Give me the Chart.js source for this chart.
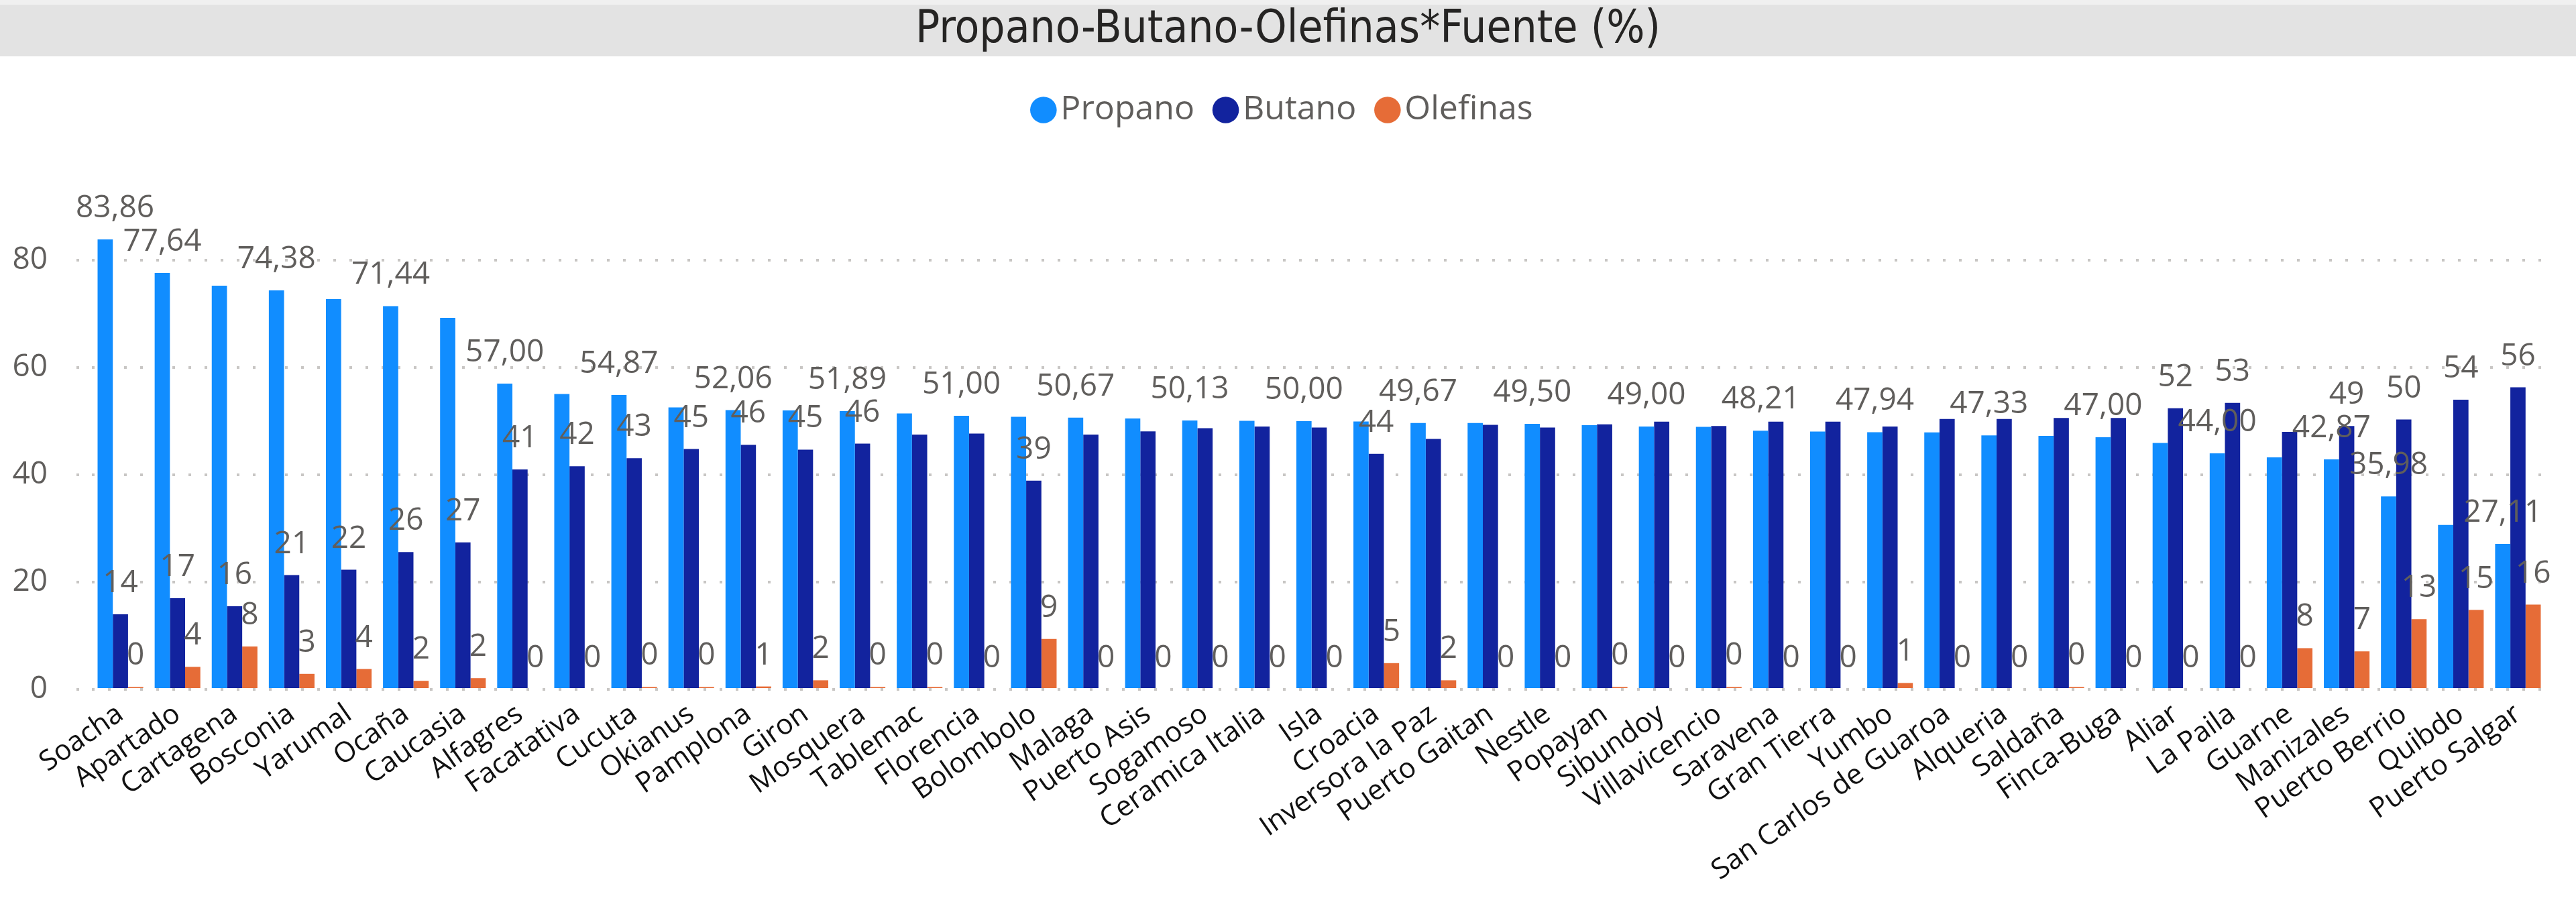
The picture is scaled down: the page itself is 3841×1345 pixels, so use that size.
<!DOCTYPE html>
<html>
<head>
<meta charset="utf-8">
<script src="https://cdn.jsdelivr.net/npm/chart.js"></script>
<style>
html, body { margin: 0; padding: 0; background: #fff; }
#wrap { width: 3841px; height: 1345px; position: relative; }
</style>
</head>
<body>
<div id="wrap"><canvas id="myChart"></canvas></div>
<script>
var fuentes = ['Soacha', 'Apartado', 'Cartagena', 'Bosconia', 'Yarumal', 'Ocaña', 'Caucasia', 'Alfagres',
  'Facatativa', 'Cucuta', 'Okianus', 'Pamplona', 'Giron', 'Mosquera', 'Tablemac', 'Florencia', 'Bolombolo',
  'Malaga', 'Puerto Asis', 'Sogamoso', 'Ceramica Italia', 'Isla', 'Croacia', 'Inversora la Paz', 'Puerto Gaitan',
  'Nestle', 'Popayan', 'Sibundoy', 'Villavicencio', 'Saravena', 'Gran Tierra', 'Yumbo', 'San Carlos de Guaroa',
  'Alqueria', 'Saldaña', 'Finca-Buga', 'Aliar', 'La Paila', 'Guarne', 'Manizales', 'Puerto Berrio', 'Quibdo',
  'Puerto Salgar'];

var propano = [83.86, 77.64, 75.25, 74.38, 72.75, 71.44, 69.25, 57.00, 55.05, 54.87, 52.55, 52.06, 52.0, 51.89,
  51.45, 51.00, 50.8, 50.67, 50.5, 50.13, 50.05, 50.00, 49.95, 49.67, 49.65, 49.50, 49.25, 49.00, 48.95, 48.21,
  48.05, 47.94, 47.9, 47.33, 47.25, 47.00, 45.95, 44.00, 43.25, 42.87, 35.98, 30.65, 27.11];

var butano = [14.0, 17.0, 15.5, 21.3, 22.3, 25.6, 27.4, 41.0, 41.6, 43.1, 44.8, 45.6, 44.7, 45.8, 47.5, 47.7,
  38.9, 47.5, 48.1, 48.7, 49.0, 48.8, 43.9, 46.7, 49.3, 48.8, 49.4, 49.9, 49.1, 49.9, 49.9, 49.0, 50.4, 50.4,
  50.6, 50.6, 52.4, 53.4, 48.0, 49.1, 50.3, 54.0, 56.3];

var olefinas = [0.45, 4.2, 8.0, 2.9, 3.8, 1.6, 2.1, 0, 0, 0.45, 0.45, 0.55, 1.7, 0.45, 0.45, 0, 9.4, 0, 0, 0, 0,
  0, 4.9, 1.7, 0, 0, 0.45, 0, 0.45, 0, 0, 1.2, 0, 0, 0.45, 0, 0, 0, 7.7, 7.1, 13.1, 14.8, 15.8];

var yTicks = [0, 20, 40, 60, 80];

// which data labels power bi kept visible (olefinas: all of them)
var propanoLabelIdx = [0, 1, 3, 5, 7, 9, 11, 13, 15, 17, 19, 21, 23, 25, 27, 29, 31, 33, 35, 37, 39, 40, 42];
var butanoLabelIdx = [0, 1, 2, 3, 4, 5, 6, 7, 8, 9, 10, 11, 12, 13, 16, 22, 36, 37, 39, 40, 41, 42];

var labelIdx = [propanoLabelIdx, butanoLabelIdx, null];

function fmt(d, v) {
  if (d === 0) return v.toFixed(2).replace('.', ',');
  return String(Math.round(v));
}

// grey band behind the title
var titleBand = {
  id: 'titleBand',
  beforeDraw: function(chart) {
    var ctx = chart.ctx;
    ctx.save();
    ctx.fillStyle = '#f0f0f0';
    ctx.fillRect(0, 0, chart.width, 7);
    ctx.fillStyle = '#e3e3e3';
    ctx.fillRect(0, 7, chart.width, 77);
    ctx.restore();
  }
};

// empty boxes: gap under the legend and a margin on the right of the plot
function spacer(pos, size) {
  return {
    position: pos, weight: 0, fullSize: false,
    options: {},
    width: 0, height: 0,
    update: function(maxWidth, maxHeight) {
      if (pos === 'top') { this.width = maxWidth; this.height = size; }
      else { this.width = size; this.height = maxHeight; }
    },
    isHorizontal: function() { return pos === 'top'; },
    draw: function() {}
  };
}

var spacers = {
  id: 'spacers',
  beforeInit: function(chart) {
    Chart.layouts.addBox(chart, spacer('top', 109));
    Chart.layouts.addBox(chart, spacer('right', 44));
  }
};

var barLabels = {
  id: 'barLabels',
  afterDatasetsDraw: function(chart) {
    var ctx = chart.ctx;
    ctx.save();
    ctx.font = '46px "Open Sans"';
    ctx.fillStyle = '#605E5C';
    ctx.textAlign = 'center';
    ctx.textBaseline = 'alphabetic';
    chart.data.datasets.forEach(function(ds, d) {
      var meta = chart.getDatasetMeta(d);
      meta.data.forEach(function(bar, i) {
        if (labelIdx[d] && labelIdx[d].indexOf(i) < 0) return;
        var txt = fmt(d, ds.data[i]);
        var w = ctx.measureText(txt).width;
        var x = Math.max(bar.x, chart.chartArea.left - 24 + w / 2);
        ctx.fillText(txt, x, bar.y - 33);
      });
    });
    ctx.restore();
  }
};

var ctx = document.getElementById('myChart').getContext('2d');
var myChart = new Chart(ctx, {
  type: 'bar',
  data: {
    labels: fuentes,
    datasets: [{
      label: 'Propano',
      data: propano,
      backgroundColor: '#118DFF',
      borderWidth: 0,
      barPercentage: 1,
      categoryPercentage: 0.8
    }, {
      label: 'Butano',
      data: butano,
      backgroundColor: '#12239E',
      borderWidth: 0,
      barPercentage: 1,
      categoryPercentage: 0.8
    }, {
      label: 'Olefinas',
      data: olefinas,
      backgroundColor: '#E66C37',
      borderWidth: 0,
      barPercentage: 1,
      categoryPercentage: 0.8
    }]
  },
  options: {
    responsive: true,
    maintainAspectRatio: false,
    animation: false,
    layout: { padding: 0 },
    plugins: {
      title: {
        display: true,
        text: 'Propano-Butano-Olefinas*Fuente (%)',
        color: '#252423',
        font: { family: '"Liberation Sans Narrow", "DejaVu Sans Condensed", sans-serif', size: 67, weight: 'normal', lineHeight: '77px' },
        padding: { top: 7, bottom: 9 }
      },
      legend: {
        position: 'top',
        labels: {
          usePointStyle: true,
          pointStyle: 'circle',
          boxWidth: 1,
          boxHeight: 28,
          padding: 46,
          color: '#605E5C',
          font: { family: '"Open Sans"', size: 50 }
        }
      },
      tooltip: { enabled: false }
    },
    scales: {
      x: {
        grid: { display: false },
        border: { display: false },
        ticks: {
          autoSkip: false,
          minRotation: 35,
          maxRotation: 35,
          color: '#111',
          padding: 4,
          font: { family: '"Open Sans"', size: 42 }
        },
        afterFit: function(s) { s.height = 317; }
      },
      y: {
        min: 0,
        max: 90,
        border: { display: false, dash: [4, 20] },
        grid: {
          color: '#C8C6C4',
          lineWidth: 4,
          tickLength: 23,
          tickColor: '#C8C6C4',
          tickWidth: 4,
          tickBorderDash: [4, 20]
        },
        ticks: {
          stepSize: 20,
          padding: 43,
          color: '#605E5C',
          font: { family: '"Open Sans"', size: 46 }
        },
        afterBuildTicks: function(s) {
          s.ticks = s.ticks.filter(function(t) { return yTicks.indexOf(t.value) >= 0; });
        },
        afterFit: function(s) { s.width = 137; }
      }
    }
  },
  plugins: [titleBand, spacers, barLabels]
});
</script>
</body>
</html>
